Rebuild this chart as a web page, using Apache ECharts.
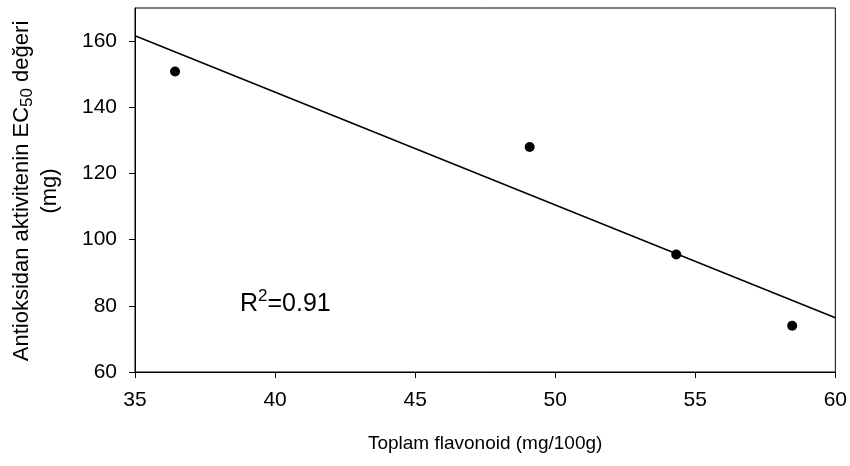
<!DOCTYPE html>
<html><head><meta charset="utf-8">
<script src="https://cdn.jsdelivr.net/npm/echarts@6/dist/echarts.min.js"></script>
<style>html,body{margin:0;padding:0;background:#fff}#c{width:850px;height:466px}</style>
</head><body><div id="c"></div>
<script>
var flavonoid = [36.43, 49.09, 54.32, 58.46];
var ec50 = [150.8, 128.0, 95.5, 74.0];
var fitX = [35, 60];
var fitY = [161.6, 76.4];
var xTicks = [35, 40, 45, 50, 55, 60];
var yTicks = [60, 80, 100, 120, 140, 160];
var xTitle = 'Toplam flavonoid (mg/100g)';
var rText = '0.91';

var FONT = '"Liberation Sans", Arial, sans-serif';
var chart = echarts.init(document.getElementById('c'), null, {renderer: 'canvas'});
chart.setOption({
  animation: false,
  grid: {left: 135, right: 14, top: 8, bottom: 94, show: true, borderColor: '#000', borderWidth: 1},
  xAxis: {
    type: 'value', min: xTicks[0], max: xTicks[xTicks.length-1], interval: 5,
    name: xTitle, nameLocation: 'middle', nameGap: 62,
    nameTextStyle: {fontFamily: FONT, fontSize: 19, color: '#000'},
    axisLine: {show: true, lineStyle: {color: '#000', width: 1}},
    axisTick: {show: true, length: 6, lineStyle: {color: '#000'}},
    axisLabel: {fontFamily: FONT, fontSize: 21, color: '#000', margin: 18},
    splitLine: {show: false}
  },
  yAxis: {
    type: 'value', min: 60, max: 170, interval: 20,
    axisLine: {show: true, lineStyle: {color: '#000', width: 1}},
    axisTick: {show: true, length: 6, lineStyle: {color: '#000'}, customValues: yTicks},
    axisLabel: {fontFamily: FONT, fontSize: 21, color: '#000', margin: 18, customValues: yTicks},
    splitLine: {show: false}
  },
  graphic: [
    {
      type: 'text', x: 36, y: 191, rotation: Math.PI / 2,
      style: {
        text: '{a|Antioksidan aktivitenin EC}{s|50}{a| değeri}\n{a|(mg)}',
        align: 'center', verticalAlign: 'middle',
        rich: {
          a: {fontFamily: FONT, fontSize: 22, fill: '#000', lineHeight: 28, verticalAlign: 'middle'},
          s: {fontFamily: FONT, fontSize: 17, fill: '#000', lineHeight: 28, verticalAlign: 'bottom'}
        }
      }
    },
    {
      type: 'text', x: 240, y: 304,
      style: {
        text: '{r|R}{p|2}{r|=' + rText + '}',
        align: 'left', verticalAlign: 'middle',
        rich: {
          r: {fontFamily: FONT, fontSize: 25, fill: '#000', lineHeight: 32, verticalAlign: 'middle'},
          p: {fontFamily: FONT, fontSize: 17, fill: '#000', lineHeight: 30, verticalAlign: 'top'}
        }
      }
    }
  ],
  series: [
    {
      type: 'line', data: fitX.map(function (x, i) { return [x, fitY[i]]; }),
      showSymbol: false, lineStyle: {color: '#000', width: 1.5}, silent: true
    },
    {
      type: 'scatter', data: flavonoid.map(function (x, i) { return [x, ec50[i]]; }),
      symbol: 'circle', symbolSize: 10, itemStyle: {color: '#000', opacity: 1}
    }
  ]
});
</script></body></html>
